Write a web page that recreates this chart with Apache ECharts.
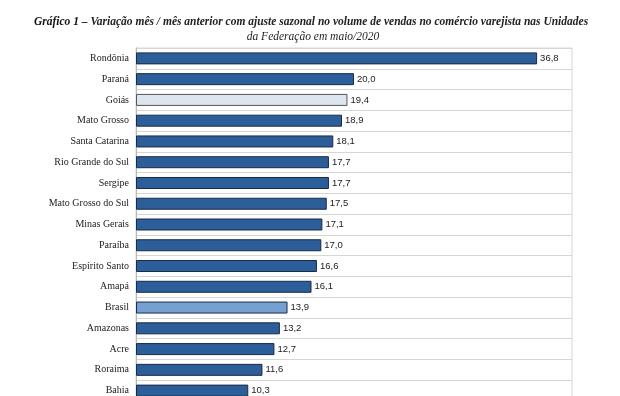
<!DOCTYPE html>
<html>
<head>
<meta charset="utf-8">
<script src="https://cdn.jsdelivr.net/npm/echarts@6/dist/echarts.min.js"></script>
<style>
  html, body { margin: 0; padding: 0; background: #fff; overflow: hidden; }
  #chart { width: 620px; height: 410px; }
</style>
</head>
<body>
<div id="chart"></div>
<script>
// dados (maio/2020, % mês/mês anterior com ajuste sazonal)
const estados = ['Rondônia', 'Paraná', 'Goiás', 'Mato Grosso', 'Santa Catarina',
  'Rio Grande do Sul', 'Sergipe', 'Mato Grosso do Sul', 'Minas Gerais', 'Paraíba',
  'Espírito Santo', 'Amapá', 'Brasil', 'Amazonas', 'Acre', 'Roraima', 'Bahia']
const variacao = [36.8, 20.0, 19.4, 18.9, 18.1, 17.7, 17.7, 17.5, 17.1, 17.0,
  16.6, 16.1, 13.9, 13.2, 12.7, 11.6, 10.3]

const corPadrao = { color: '#2c5e99', borderColor: '#1a2b45', borderWidth: 1 }
const destaque = {
  'Goiás': { color: '#dde5ee', borderColor: '#555', borderWidth: 1 },
  'Brasil': { color: '#76a0d2', borderColor: '#1a2b45', borderWidth: 1 }
}

const dados = variacao.map((v, i) => ({
  value: v,
  itemStyle: destaque[estados[i]] || corPadrao
}))

const chart = echarts.init(document.getElementById('chart'))
chart.setOption({
  animation: false,
  title: [
    {
      left: 306,
      top: 11,
      textAlign: 'center',
      text: '{b|Gráfico 1 –}{i| Variação mês / mês anterior com ajuste sazonal no volume de vendas no comércio varejista nas Unidades}',
      textStyle: {
        rich: {
          b: { fontFamily: 'Liberation Serif', fontStyle: 'italic', fontWeight: 'bold', fontSize: 11.5, color: '#111' },
          i: { fontFamily: 'Liberation Serif', fontStyle: 'italic', fontSize: 11.5, color: '#222' }
        }
      }
    },
    {
      left: 308,
      top: 26,
      textAlign: 'center',
      text: 'da Federação em maio/2020',
      textStyle: { fontFamily: 'Liberation Serif', fontStyle: 'italic', fontWeight: 'normal', fontSize: 11.5, color: '#222' }
    }
  ],
  grid: {
    left: 136,
    right: 48,
    top: 48,
    height: 353,
    show: true,
    borderColor: '#d6d6d6',
    borderWidth: 1
  },
  xAxis: {
    type: 'value',
    min: 0,
    max: 40,
    axisLabel: { show: false },
    axisLine: { show: false },
    axisTick: { show: false },
    splitLine: { show: false }
  },
  yAxis: {
    type: 'category',
    inverse: true,
    data: estados,
    axisLine: { show: true, lineStyle: { color: '#b8b8b8', width: 1 } },
    axisTick: { show: false },
    splitLine: { show: true, lineStyle: { color: '#d6d6d6', width: 1 } },
    axisLabel: {
      margin: 7,
      fontFamily: 'Liberation Serif',
      fontSize: 10,
      color: '#222'
    }
  },
  series: [{
    type: 'bar',
    data: dados,
    barWidth: 12,
    label: {
      show: true,
      position: 'right',
      distance: 3,
      fontFamily: 'Liberation Sans',
      fontSize: 9.5,
      color: '#222',
      formatter: p => p.value.toFixed(1).replace('.', ',')
    }
  }]
})
</script>
</body>
</html>
